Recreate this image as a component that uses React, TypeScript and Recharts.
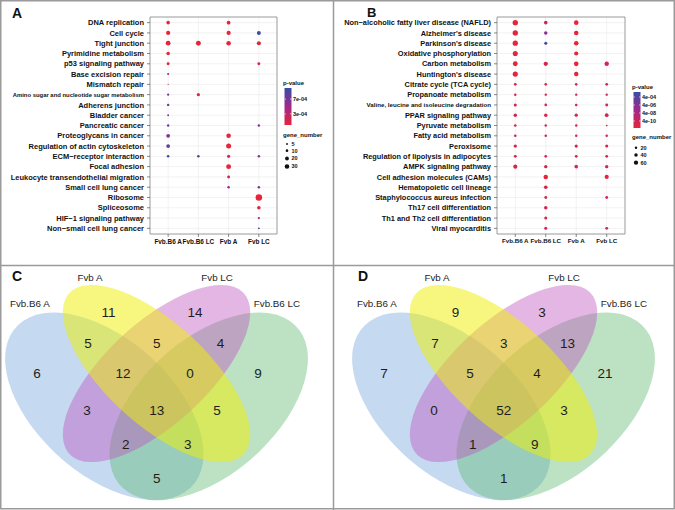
import React from 'react';
import { ScatterChart, Scatter, XAxis, YAxis, CartesianGrid, ReferenceArea } from 'recharts';

const FONT = '"Liberation Sans", Arial, Helvetica, sans-serif';

const groups = ['Fvb.B6 A', 'Fvb.B6 LC', 'Fvb A', 'Fvb LC'];

// panel A: KEGG pathways, gene numbers and p-values per group
const pathwaysA = [
  'DNA replication', 'Cell cycle', 'Tight junction', 'Pyrimidine metabolism', 'p53 signaling pathway',
  'Base excision repair', 'Mismatch repair', 'Amino sugar and nucleotide sugar metabolism', 'Adherens junction',
  'Bladder cancer', 'Pancreatic cancer', 'Proteoglycans in cancer', 'Regulation of actin cytoskeleton',
  'ECM\u2212receptor interaction', 'Focal adhesion', 'Leukocyte transendothelial migration', 'Small cell lung cancer',
  'Ribosome', 'Spliceosome', 'HIF\u22121 signaling pathway', 'Non\u2212small cell lung cancer',
];
const genesA = [
  [18, null, 20, null], [25, null, 25, 22], [32, 34, 30, 24], [18, null, null, null], [12, null, null, 12],
  [6, null, null, null], [2, null, null, null], [7, 14, null, null], [8, null, null, null], [5, null, null, null],
  [8, null, null, 8], [20, null, 30, null], [20, null, 36, null], [9, 9, 14, 9], [null, null, 34, null],
  [null, null, 12, null], [null, null, 9, 9], [null, null, null, 60], [null, null, null, 18],
  [null, null, null, 7], [null, null, null, 5],
];
const pvalA = [
  [2e-5, null, 2e-5, null], [1e-5, null, 1e-5, 9.8e-4], [1e-6, 1e-5, 1e-6, 2e-5], [3e-5, null, null, null],
  [8e-5, null, null, 6e-5], [6e-4, null, null, null], [4e-4, null, null, null], [6.5e-4, 5e-5, null, null],
  [7e-4, null, null, null], [7e-4, null, null, null], [7e-4, null, null, 6.5e-4], [6.5e-4, null, 1e-5, null],
  [8.5e-4, null, 1e-5, null], [9.5e-4, 9.5e-4, 1e-4, 5.5e-4], [null, null, 1e-5, null], [null, null, 2.5e-4, null],
  [null, null, 6e-4, 6e-4], [null, null, null, 1e-6], [null, null, null, 5e-5], [null, null, null, 6e-4],
  [null, null, null, 7.5e-4],
];

// panel B
const pathwaysB = [
  'Non\u2212alcoholic fatty liver disease (NAFLD)', "Alzheimer's disease", "Parkinson's disease",
  'Oxidative phosphorylation', 'Carbon metabolism', "Huntington's disease", 'Citrate cycle (TCA cycle)',
  'Propanoate metabolism', 'Valine, leucine and isoleucine degradation', 'PPAR signaling pathway',
  'Pyruvate metabolism', 'Fatty acid metabolism', 'Peroxisome', 'Regulation of lipolysis in adipocytes',
  'AMPK signaling pathway', 'Cell adhesion molecules (CAMs)', 'Hematopoietic cell lineage',
  'Staphylococcus aureus infection', 'Th17 cell differentiation', 'Th1 and Th2 cell differentiation',
  'Viral myocarditis',
];
const genesB = [
  [94, 42, 70, null], [94, 40, 70, null], [90, 30, 68, null], [85, null, 58, null], [80, 62, 72, 65],
  [88, null, 66, null], [24, 22, 22, 26], [20, 18, 18, 18], [30, 24, 22, 28], [40, 38, 36, 46],
  [22, 20, 20, 10], [22, 20, 20, 20], [36, null, 34, 30], [28, 24, 26, 26], [55, 38, 42, 38],
  [null, 68, null, 56], [null, 44, null, null], [null, 26, null, 26], [null, 40, null, null],
  [null, 30, null, null], [null, 30, null, 28],
];
const pvalB = [
  [1e-11, 1e-9, 1e-11, null], [1e-11, 3e-6, 1e-11, null], [1e-11, 1.5e-3, 1e-11, null], [1e-11, null, 1e-11, null],
  [1e-11, 1e-10, 1e-11, 1e-10], [1e-11, null, 1e-11, null], [1e-10, 1e-10, 1e-10, 1e-10], [3e-10, 3e-10, 3e-10, 3e-10],
  [1e-10, 2e-10, 3e-10, 1e-10], [1e-10, 1e-10, 1e-10, 1e-10], [3e-10, 3e-10, 3e-10, 5e-10], [2e-10, 2e-10, 2e-10, 2e-10],
  [1e-10, null, 1e-10, 1e-10], [2e-10, 2e-10, 2e-10, 2e-10], [1e-10, 1e-10, 1e-10, 1e-10], [null, 1e-11, null, 1e-11],
  [null, 1e-10, null, null], [null, 2e-10, null, 2e-10], [null, 1e-10, null, null], [null, 2e-10, null, null],
  [null, 2e-10, null, 2e-10],
];

const legendPA = [7e-4, 3e-4];
const legendPB = [4e-4, 4e-6, 4e-8, 4e-10];
const legendGenesA = [5, 10, 20, 30];
const legendGenesB = [20, 40, 60];

// Venn: sets and region counts (A=Fvb.B6 A, B=Fvb A, C=Fvb LC, D=Fvb.B6 LC)
const vennSets = ['Fvb.B6 A', 'Fvb A', 'Fvb LC', 'Fvb.B6 LC'];
const vennRegions = ['A', 'B', 'C', 'D', 'AB', 'BC', 'CD', 'ABC', 'BCD', 'AC', 'ABCD', 'BD', 'ACD', 'ABD', 'AD'];
const countsC = [6, 11, 14, 9, 5, 5, 4, 12, 0, 3, 13, 5, 2, 3, 5];
const countsD = [7, 9, 3, 21, 7, 3, 13, 5, 4, 0, 52, 3, 1, 9, 1];

// layout of the venn in unit coordinates
const regionPos: Record<string, [number, number]> = {
  A: [0.157, 0.571], B: [0.362, 0.757], C: [0.611, 0.757], D: [0.792, 0.571],
  AB: [0.303, 0.663], BC: [0.501, 0.663], CD: [0.684, 0.663], ABC: [0.404, 0.571], BCD: [0.596, 0.571],
  AC: [0.3, 0.459], ABCD: [0.501, 0.459], BD: [0.674, 0.459], ACD: [0.412, 0.356], ABD: [0.59, 0.356],
  AD: [0.501, 0.252],
};
const setLabelPos: [number, number][] = [[0.136, 0.784], [0.309, 0.863], [0.674, 0.863], [0.846, 0.784]];
const vennShapes = [
  { u: 0.35, v: 0.47, a: 0.35, b: 0.2, rot: 135, fill: '#5e98d8', op: 0.36 },
  { u: 0.65, v: 0.47, a: 0.35, b: 0.2, rot: 45, fill: '#58b66a', op: 0.4 },
  { u: 0.5, v: 0.57, a: 0.35, b: 0.15, rot: 45, fill: '#be50be', op: 0.42 },
  { u: 0.5, v: 0.57, a: 0.35, b: 0.15, rot: 135, fill: '#f0f000', op: 0.5 },
];
const VW = 328, VH = 240;
const VX: [number, number] = [0.0503, 0.9928];
const VY: [number, number] = [0.1611, 0.8906];
const SX = VW / (VX[1] - VX[0]);
const SY = VH / (VY[1] - VY[0]);

const STOPS: [number, number[]][] = [[0, [232, 36, 56]], [0.5, [160, 40, 140]], [1, [56, 76, 164]]];
function gradColor(t: number) {
  const tt = Math.max(0, Math.min(1, t));
  const i = tt <= 0.5 ? 0 : 1;
  const [t0, c0] = STOPS[i];
  const [t1, c1] = STOPS[i + 1];
  const f = (tt - t0) / (t1 - t0);
  const c = c0.map((v, k) => Math.round(v + (c1[k] - v) * f));
  return `rgb(${c[0]},${c[1]},${c[2]})`;
}
const colorA = (p: number) => gradColor(p / 1e-3);
const LB: [number, number] = [-11.15, -2.15];
const colorB = (p: number) => gradColor((Math.log10(p) - LB[0]) / (LB[1] - LB[0]));
const radiusA = (n: number) => 0.42 * Math.sqrt(n);
const radiusB = (n: number) => 0.275 * Math.sqrt(n);

function toPoints(genes: (number | null)[][], pvals: (number | null)[][]) {
  const pts: { col: number; row: number; n: number; p: number }[] = [];
  genes.forEach((r, ri) => r.forEach((n, ci) => {
    if (n != null) pts.push({ col: ci, row: ri, n, p: pvals[ri][ci] as number });
  }));
  return pts;
}

function DotPanel({ left, width, yw, right, pathways, genes, pvals, radius, color, small, yFont, xFont }: any) {
  const pts = toPoints(genes, pvals);
  return (
    <div style={{ position: 'absolute', left, top: 0 }}>
      <ScatterChart width={width} height={265} margin={{ top: 17, right, bottom: 0, left: 0 }}>
        <CartesianGrid stroke="#ececec" strokeWidth={0.7} />
        <XAxis type="number" dataKey="col" domain={[-0.6, 3.6]} allowDataOverflow ticks={[0, 1, 2, 3]} interval={0}
          tickFormatter={(v: number) => groups[v]} height={31} tickSize={3} axisLine={false}
          tickLine={{ stroke: '#555', strokeWidth: 0.7 }}
          tick={{ fontSize: xFont, fontWeight: 'bold', fill: '#111', fontFamily: FONT }} />
        <YAxis type="number" dataKey="row" domain={[-0.55, 20.55]} allowDataOverflow reversed interval={0}
          ticks={pathways.map((_: string, i: number) => i)} width={yw} tickSize={3} axisLine={false}
          tickLine={{ stroke: '#555', strokeWidth: 0.7 }}
          tick={(p: any) => {
            const label = pathways[p.payload.value];
            return (
              <text x={p.x - 1} y={p.y} dy="0.35em" textAnchor="end" fontFamily={FONT} fontWeight="bold"
                fontSize={small[label] ?? yFont} fill="#111">{label}</text>
            );
          }} />
        <ReferenceArea x1={-0.6} x2={3.6} y1={-0.55} y2={20.55} fill="none" stroke="#8a8a8a" strokeWidth={0.8} ifOverflow="visible" />
        <Scatter data={pts} isAnimationActive={false}
          shape={(p: any) => <circle cx={p.cx} cy={p.cy} r={radius(p.payload.n)} fill={color(p.payload.p)} />} />
      </ScatterChart>
    </div>
  );
}

function Legend({ x, title, barTop, barBottom, ticks, tickPos, tickLabel, sizeTop, sizes, sizeY, radius, gradId }: any) {
  return (
    <g fontFamily={FONT} fill="#111">
      <defs>
        <linearGradient id={gradId} x1="0" y1="1" x2="0" y2="0">
          {STOPS.map(([t, c]) => <stop key={t} offset={t} stopColor={`rgb(${c.join(',')})`} />)}
        </linearGradient>
      </defs>
      <text x={x} y={barTop - 3} fontSize={6} fontWeight="bold">{title}</text>
      <rect x={x + 1.5} y={barTop} width={7} height={barBottom - barTop} fill={`url(#${gradId})`} />
      {ticks.map((t: number) => {
        const y = tickPos(t);
        return (
          <g key={t}>
            <line x1={x + 1.5} x2={x + 3} y1={y} y2={y} stroke="#fff" strokeWidth={0.6} />
            <line x1={x + 7} x2={x + 8.5} y1={y} y2={y} stroke="#fff" strokeWidth={0.6} />
            <text x={x + 10} y={y} dy="0.35em" fontSize={5.5} fontWeight="bold">{tickLabel(t)}</text>
          </g>
        );
      })}
      <text x={x} y={sizeTop} fontSize={6} fontWeight="bold">gene_number</text>
      {sizes.map((s: number, i: number) => (
        <g key={s}>
          <circle cx={x + 4} cy={sizeY[i]} r={radius(s)} fill="#111" />
          <text x={x + 8.5} y={sizeY[i]} dy="0.35em" fontSize={5.5} fontWeight="bold">{s}</text>
        </g>
      ))}
    </g>
  );
}

function VennPanel({ left, counts }: { left: number; counts: number[] }) {
  const regions = vennRegions.map((r, i) => ({ u: regionPos[r][0], v: regionPos[r][1], count: counts[i] }));
  const labels = vennSets.map((s, i) => ({ u: setLabelPos[i][0], v: setLabelPos[i][1], name: s }));
  return (
    <div style={{ position: 'absolute', left, top: 268 }}>
      <ScatterChart width={VW} height={VH} margin={{ top: 0, right: 0, bottom: 0, left: 0 }}>
        <XAxis type="number" dataKey="u" domain={VX} allowDataOverflow hide />
        <YAxis type="number" dataKey="v" domain={VY} allowDataOverflow hide width={0} />
        <Scatter data={vennShapes} isAnimationActive={false}
          shape={(p: any) => (
            <ellipse cx={0} cy={0} rx={p.payload.a} ry={p.payload.b} fill={p.payload.fill} fillOpacity={p.payload.op}
              transform={`translate(${p.cx},${p.cy}) scale(${SX},${-SY}) rotate(${p.payload.rot})`} />
          )} />
        <Scatter data={regions} isAnimationActive={false}
          shape={(p: any) => (
            <text x={p.cx} y={p.cy} dy="0.36em" textAnchor="middle" fontFamily={FONT} fontSize={13.5} fill="#1e1e1e">
              {p.payload.count}
            </text>
          )} />
        <Scatter data={labels} isAnimationActive={false}
          shape={(p: any) => (
            <text x={p.cx} y={p.cy} dy="0.36em" textAnchor="middle" fontFamily={FONT} fontSize={9.8} fill="#1e1e1e">
              {p.payload.name}
            </text>
          )} />
      </ScatterChart>
    </div>
  );
}

export default function App() {
  const aBar = [88, 125];
  const bBar = [92, 128];
  return (
    <div style={{ position: 'absolute', left: 0, top: 0, width: 675, height: 510, background: '#fff', overflow: 'hidden' }}>
      <DotPanel left={0} width={333} yw={150} right={56} pathways={pathwaysA} genes={genesA} pvals={pvalA}
        radius={radiusA} color={colorA} yFont={7.5} xFont={6.4} small={{ 'Amino sugar and nucleotide sugar metabolism': 5.9 }} />
      <DotPanel left={333} width={342} yw={164} right={50} pathways={pathwaysB} genes={genesB} pvals={pvalB}
        radius={radiusB} color={colorB} yFont={7.4} xFont={6.2} small={{ 'Valine, leucine and isoleucine degradation': 6.2 }} />
      <VennPanel left={0} counts={countsC} />
      <VennPanel left={347} counts={countsD} />
      <svg width={675} height={510} style={{ position: 'absolute', left: 0, top: 0, pointerEvents: 'none' }}>
        <rect x={0.75} y={0.75} width={673.5} height={508} fill="none" stroke="#9a9a9a" strokeWidth={1.5} />
        <line x1={333.5} x2={333.5} y1={0} y2={510} stroke="#9a9a9a" strokeWidth={1.5} />
        <line x1={0} x2={675} y1={265.5} y2={265.5} stroke="#9a9a9a" strokeWidth={1.5} />
        <g fontFamily={FONT} fontWeight="bold" fill="#111">
          <text x={12} y={18.3} fontSize={14}>A</text>
          <text x={367} y={16.5} fontSize={13}>B</text>
          <text x={12} y={280.5} fontSize={14}>C</text>
          <text x={358} y={280.5} fontSize={14}>D</text>
        </g>
        <Legend x={283} title="p-value" barTop={aBar[0]} barBottom={aBar[1]} ticks={legendPA} gradId="ga"
          tickPos={(p: number) => aBar[1] - (aBar[1] - aBar[0]) * (p / 1e-3)}
          tickLabel={(p: number) => p.toExponential(0).replace('e-', 'e-0')}
          sizeTop={137} sizes={legendGenesA} sizeY={[144, 150.7, 158.5, 166.5]} radius={radiusA} />
        <Legend x={632} title="p-value" barTop={bBar[0]} barBottom={bBar[1]} ticks={legendPB} gradId="gb"
          tickPos={(p: number) => bBar[1] - (bBar[1] - bBar[0]) * ((Math.log10(p) - LB[0]) / (LB[1] - LB[0]))}
          tickLabel={(p: number) => p.toExponential(0).replace(/e-(\d)$/, 'e-0$1')}
          sizeTop={139} sizes={legendGenesB} sizeY={[147.7, 155, 162.7]} radius={radiusB} />
      </svg>
    </div>
  );
}
